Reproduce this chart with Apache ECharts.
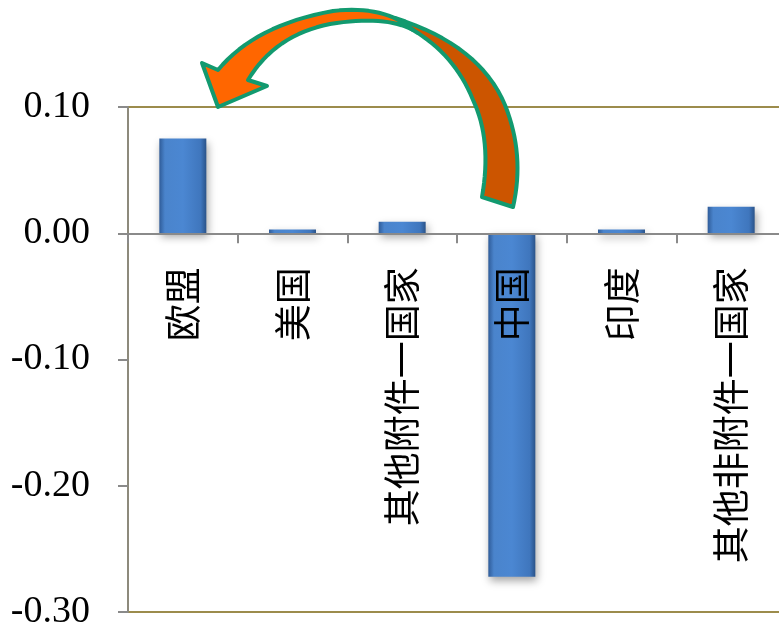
<!DOCTYPE html>
<html><head><meta charset="utf-8">
<script src="https://cdn.jsdelivr.net/npm/echarts@6/dist/echarts.min.js"></script>
<style>html,body{margin:0;padding:0;background:#fff}#c{width:779px;height:628px}</style>
</head><body><div id="c"></div>
<script>
var categories = ['欧盟', '美国', '其他附件一国家', '中国', '印度', '其他非附件一国家'];
var values = [0.075, 0.003, 0.0092, -0.272, 0.003, 0.021];
var yTicks = { min: -0.3, max: 0.1, interval: 0.1 };

// decorative arrow outline helper: segments are [x,y] (line) or [cx,cy,x,y] (quadratic)
function outline(start, segs) {
  var pts = [start.slice()], cur = start.slice();
  segs.forEach(function (s) {
    if (s.length === 2) { pts.push(s.slice()); cur = s.slice(); }
    else {
      for (var i = 1; i <= 16; i++) {
        var t = i / 16, u = 1 - t;
        pts.push([u * u * cur[0] + 2 * u * t * s[0] + t * t * s[2], u * u * cur[1] + 2 * u * t * s[1] + t * t * s[3]]);
      }
      cur = [s[2], s[3]];
    }
  });
  return pts;
}
var backPts = outline([395, 18], [[480, 45, 505, 105], [525, 155, 513, 207], [482, 197], [492, 140, 473, 100], [455, 55, 413, 30]]);
var frontPts = outline([218, 107], [[202, 63], [218, 70], [255, 25, 333, 11], [385, 5, 413, 30], [385, 15, 330, 24], [275, 35, 248, 80], [267, 86]]);

var gridH = 505;
var zeroOffset = -gridH * (0 - yTicks.min) / (yTicks.max - yTicks.min);

var chart = echarts.init(document.getElementById('c'), null, { renderer: 'canvas' });
var barColor = { type: 'linear', x: 0, y: 0, x2: 1, y2: 0, colorStops: [
  { offset: 0, color: '#2f5c99' },
  { offset: 0.12, color: '#4a84cc' },
  { offset: 0.5, color: '#4b87d2' },
  { offset: 0.88, color: '#3f76bd' },
  { offset: 1, color: '#2a5389' }
] };
chart.setOption({
  animation: false,
  grid: { left: 128, top: 107, width: 658, height: gridH, containLabel: false, outerBoundsMode: 'none', show: true, borderColor: '#9c8c4c', borderWidth: 2, backgroundColor: 'transparent' },
  xAxis: {
    type: 'category', data: categories, z: 3, position: 'bottom', offset: zeroOffset,
    axisLine: { onZero: false, lineStyle: { color: '#8a8a8a', width: 2 } },
    axisTick: { show: true, length: 10, alignWithLabel: false, lineStyle: { color: '#8a8a8a', width: 2 } },
    axisLabel: { rotate: 90, margin: 34, fontSize: 37, color: '#000', fontFamily: 'Noto Sans CJK SC', interval: 0 },
    splitLine: { show: false }
  },
  yAxis: {
    type: 'value', min: yTicks.min, max: yTicks.max, interval: yTicks.interval,
    axisLine: { show: true, lineStyle: { color: '#8d8a7c', width: 2 } },
    axisTick: { show: true, length: 10, lineStyle: { color: '#8a8a8a', width: 2 } },
    axisLabel: { margin: 38, fontSize: 38, color: '#000', fontFamily: 'Liberation Serif', formatter: function (v) { return v.toFixed(2); } },
    splitLine: { show: false }
  },
  series: [{
    type: 'bar', data: values, barWidth: 47, z: 2,
    itemStyle: { color: barColor, shadowBlur: 8, shadowColor: 'rgba(0,0,0,0.35)', shadowOffsetY: 4, shadowOffsetX: 2 }
  }],
  graphic: [
    { type: 'polygon', z: 10, shape: { points: backPts },
      style: { fill: '#cc5500', stroke: '#129a6f', lineWidth: 4, lineJoin: 'round' } },
    { type: 'polygon', z: 11, shape: { points: frontPts },
      style: { fill: '#ff6600', stroke: '#129a6f', lineWidth: 4, lineJoin: 'round' } }
  ]
});
</script></body></html>
